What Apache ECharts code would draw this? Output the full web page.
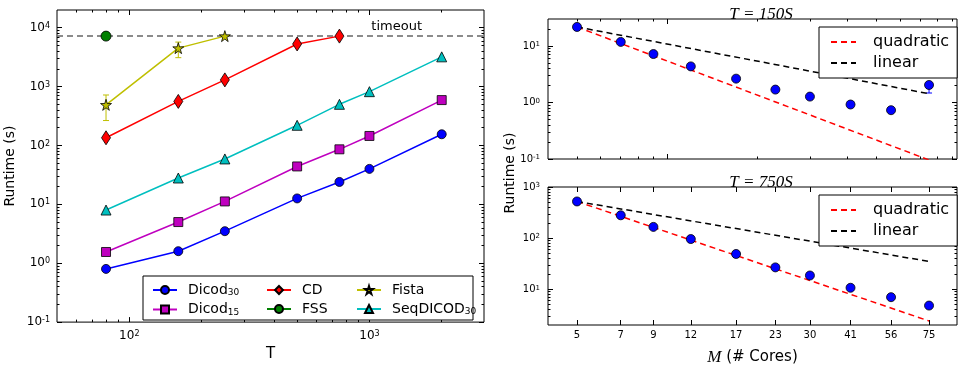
<!DOCTYPE html>
<html>
<head>
<meta charset="utf-8">
<script src="https://cdn.jsdelivr.net/npm/echarts@6/dist/echarts.min.js"></script>
<style>
html, body { margin: 0; padding: 0; background: #fff; }
#chart { width: 961px; height: 367px; }
</style>
</head>
<body>
<div id="chart"></div>
<script>
// left panel: runtime vs T
const T = [80, 160, 250, 500, 750, 1000, 2000];
const dicod30 = [0.8, 1.6, 3.5, 12.6, 24, 40, 155];
const dicod15 = [1.55, 5.0, 11.2, 44, 86, 145, 590];
const seqDicod30 = [8.0, 28, 59, 220, 500, 820, 3200];
const cd = [135, 560, 1300, 5300, 7200];
const fss = [7200];
const fista = [490, 4500, 7200];
const fistaErr = [[265, 720], [3100, 5700]];
const timeout = 7200;

// right panels: runtime vs number of cores
const cores = [5, 7, 9, 12, 17, 23, 30, 41, 56, 75];
const t150 = [21.7, 11.8, 7.2, 4.35, 2.64, 1.69, 1.27, 0.92, 0.73, 2.04];
const t150Err = [1.47, 2.1]; // only the last point has a visible bar
const t750 = [522, 280, 166, 96, 49, 26.8, 18.6, 10.7, 7.0, 4.8];
const refM = [5, 75];
const quad150 = [21.7, 0.096];
const lin150 = [21.7, 1.43];
const quad750 = [522, 2.4];
const lin750 = [522, 35];

const decades = [0.1, 1, 10, 100, 1000, 10000];

const FONT = 'DejaVu Sans';
const STAR = 'path://M50,0 L61,35 L98,35 L68,57 L79,91 L50,70 L21,91 L32,57 L2,35 L39,35 Z';

function minors(lo, hi) {
  const out = [];
  for (let e = -2; e <= 5; e++) {
    for (let d = 2; d <= 9; d++) {
      const v = +(d * Math.pow(10, e)).toPrecision(3);
      if (v > lo && v < hi) out.push(v);
    }
  }
  return out;
}

const pow10 = v => '10{s|' + Math.round(Math.log10(v)) + '}';

// one log axis that only draws ticks (and maybe labels)
function ax(grid, pos, min, max, ticks, len, label) {
  const a = {
    type: 'log', gridIndex: grid, position: pos, min: min, max: max,
    axisLine: { show: false },
    splitLine: { show: false },
    axisTick: { show: true, inside: true, length: len, customValues: ticks, lineStyle: { color: '#000', width: 1 } },
    axisLabel: { show: false }
  };
  if (label) {
    a.axisLabel = Object.assign({ show: true, customValues: ticks, color: '#000', fontFamily: FONT }, label);
  }
  return a;
}

function supLabel(size, margin) {
  return {
    fontSize: size, margin: margin, formatter: pow10,
    rich: { s: { fontSize: Math.round(size * 0.7), verticalAlign: 'top', fontFamily: FONT, color: '#000' } }
  };
}

function errBar(color) {
  return function (params, api) {
    const x = api.value(0);
    const a = api.coord([x, api.value(1)]);
    const b = api.coord([x, api.value(2)]);
    const st = { stroke: color, lineWidth: 1 };
    return {
      type: 'group', children: [
        { type: 'line', shape: { x1: a[0], y1: a[1], x2: b[0], y2: b[1] }, style: st },
        { type: 'line', shape: { x1: a[0] - 3, y1: a[1], x2: a[0] + 3, y2: a[1] }, style: st },
        { type: 'line', shape: { x1: b[0] - 3, y1: b[1], x2: b[0] + 3, y2: b[1] }, style: st }
      ]
    };
  };
}

const pairs = (xs, ys) => ys.map((y, i) => [xs[i], y]);

// axis ranges
const LX = [50, 3000], LY = [0.0999, 20000];
const RX = [4, 93], RTY = [0.0999, 30], RBY = [2, 1001];

const xAxis = [
  // left grid
  Object.assign(ax(0, 'bottom', LX[0], LX[1], [100, 1000], 5, supLabel(12, 8)),
    { name: 'T', nameLocation: 'middle', nameGap: 22, nameTextStyle: { fontSize: 15, fontFamily: FONT, color: '#000' } }),
  ax(0, 'top', LX[0], LX[1], [100, 1000], 5),
  ax(0, 'bottom', LX[0], LX[1], minors(LX[0], LX[1]), 2.5),
  ax(0, 'top', LX[0], LX[1], minors(LX[0], LX[1]), 2.5),
  // right top
  ax(1, 'bottom', RX[0], RX[1], [10], 5),
  ax(1, 'top', RX[0], RX[1], [10], 5),
  ax(1, 'bottom', RX[0], RX[1], minors(RX[0], RX[1]), 2.5),
  ax(1, 'top', RX[0], RX[1], minors(RX[0], RX[1]), 2.5),
  // right bottom
  Object.assign(ax(2, 'bottom', RX[0], RX[1], cores, 5, { fontSize: 10, margin: 5 }),
    {
      name: '{m|M} (# Cores)', nameLocation: 'middle', nameGap: 24,
      nameTextStyle: { fontSize: 15, fontFamily: FONT, color: '#000',
        rich: { m: { fontSize: 17, fontFamily: 'Liberation Serif', fontStyle: 'italic', color: '#000' } } }
    }),
  ax(2, 'top', RX[0], RX[1], cores, 5)
];

const yAxis = [
  // left grid
  Object.assign(ax(0, 'left', LY[0], LY[1], decades, 5, supLabel(12, 7)),
    { name: 'Runtime (s)', nameLocation: 'middle', nameGap: 40, nameTextStyle: { fontSize: 14, fontFamily: FONT, color: '#000' } }),
  ax(0, 'right', LY[0], LY[1], decades, 5),
  ax(0, 'left', LY[0], LY[1], minors(LY[0], LY[1]), 2.5),
  ax(0, 'right', LY[0], LY[1], minors(LY[0], LY[1]), 2.5),
  // right top
  ax(1, 'left', RTY[0], RTY[1], [0.1, 1, 10], 5, supLabel(10, 8)),
  ax(1, 'right', RTY[0], RTY[1], [0.1, 1, 10], 5),
  ax(1, 'left', RTY[0], RTY[1], minors(RTY[0], RTY[1]), 2.5),
  ax(1, 'right', RTY[0], RTY[1], minors(RTY[0], RTY[1]), 2.5),
  // right bottom
  ax(2, 'left', RBY[0], RBY[1], [10, 100, 1000], 5, supLabel(10, 8)),
  ax(2, 'right', RBY[0], RBY[1], [10, 100, 1000], 5),
  ax(2, 'left', RBY[0], RBY[1], minors(RBY[0], RBY[1]), 2.5),
  ax(2, 'right', RBY[0], RBY[1], minors(RBY[0], RBY[1]), 2.5)
];

const edge = { borderColor: '#000', borderWidth: 0.8, opacity: 1 };

function leftLine(name, ys, color, symbol, size) {
  return {
    name: name, type: 'line', xAxisIndex: 0, yAxisIndex: 0,
    data: pairs(T, ys), symbol: symbol, symbolSize: size, z: 3,
    lineStyle: { color: color, width: 1.5 },
    itemStyle: Object.assign({ color: color }, edge)
  };
}

const series = [
  Object.assign(leftLine('Dicod30', dicod30, '#0000ff', 'circle', 9), {
    markLine: {
      silent: true, symbol: 'none', z: 1,
      lineStyle: { color: '#666', type: [6, 4], width: 1.5 },
      label: { show: true, position: 'insideEndTop', formatter: 'timeout', color: '#000', fontSize: 13, fontFamily: FONT, offset: [-57, 2] },
      data: [{ yAxis: timeout }]
    }
  }),
  leftLine('CD', cd, '#ff0000', 'diamond', [9, 14]),
  {
    type: 'custom', xAxisIndex: 0, yAxisIndex: 0, z: 2,
    renderItem: errBar('#bfbf00'),
    encode: { x: 0, y: [1, 2] },
    data: fistaErr.map((e, i) => [T[i], e[0], e[1]])
  },
  leftLine('Fista', fista, '#bfbf00', STAR, 11),
  leftLine('Dicod15', dicod15, '#bf00bf', 'rect', 9),
  leftLine('FSS', fss, '#008000', 'circle', 10),
  leftLine('SeqDICOD30', seqDicod30, '#00bfbf', 'triangle', 10),

  // right top: T = 150S
  { name: 'quadratic', type: 'line', xAxisIndex: 4, yAxisIndex: 4, data: pairs(refM, quad150), symbol: 'none',
    lineStyle: { color: '#ff0000', type: [6, 4], width: 1.5 }, itemStyle: { color: '#ff0000' } },
  { name: 'linear', type: 'line', xAxisIndex: 4, yAxisIndex: 4, data: pairs(refM, lin150), symbol: 'none',
    lineStyle: { color: '#000', type: [6, 4], width: 1.5 }, itemStyle: { color: '#000' } },
  { type: 'custom', xAxisIndex: 4, yAxisIndex: 4, z: 2, renderItem: errBar('#0000ff'), encode: { x: 0, y: [1, 2] },
    data: [[cores[cores.length - 1], t150Err[0], t150Err[1]]] },
  { type: 'scatter', xAxisIndex: 4, yAxisIndex: 4, data: pairs(cores, t150), symbol: 'circle', symbolSize: 9, z: 3,
    itemStyle: Object.assign({ color: '#0000ff' }, edge) },

  // right bottom: T = 750S
  { name: 'quadratic', type: 'line', xAxisIndex: 8, yAxisIndex: 8, data: pairs(refM, quad750), symbol: 'none',
    lineStyle: { color: '#ff0000', type: [6, 4], width: 1.5 }, itemStyle: { color: '#ff0000' } },
  { name: 'linear', type: 'line', xAxisIndex: 8, yAxisIndex: 8, data: pairs(refM, lin750), symbol: 'none',
    lineStyle: { color: '#000', type: [6, 4], width: 1.5 }, itemStyle: { color: '#000' } },
  { type: 'scatter', xAxisIndex: 8, yAxisIndex: 8, data: pairs(cores, t750), symbol: 'circle', symbolSize: 9, z: 3,
    itemStyle: Object.assign({ color: '#0000ff' }, edge) }
];

const subText = { fontSize: 14, fontFamily: FONT, color: '#000',
  rich: { b: { fontSize: 9, verticalAlign: 'bottom', fontFamily: FONT, color: '#000', padding: [6, 0, 0, 0] } } };
const legendName = n => n.replace(/(\d+)$/, '{b|$1}');

function leftLegend(x, names) {
  return {
    orient: 'vertical', left: x, top: 278, itemWidth: 24, itemHeight: 10, itemGap: 5,
    data: names, formatter: legendName, textStyle: Object.assign({ padding: [0, 0, 0, 6] }, subText),
    selectedMode: false, z: 6
  };
}

function rightLegend(y) {
  return {
    orient: 'vertical', left: 819, top: y, itemWidth: 25, itemHeight: 14, itemGap: 5,
    padding: [7, 8, 7, 11], borderColor: '#000', borderWidth: 1, backgroundColor: '#fff',
    borderRadius: 0, selectedMode: false, itemStyle: { opacity: 0 },
    data: ['quadratic', 'linear'], textStyle: { fontSize: 16, fontFamily: FONT, color: '#000', padding: [0, 0, 0, 12] }
  };
}

const titleStyle = { fontSize: 17, fontFamily: 'Liberation Serif', fontStyle: 'italic', fontWeight: 'normal', color: '#000' };

const option = {
  animation: false,
  textStyle: { fontFamily: FONT },
  title: [
    { text: 'T = 150S', left: 756, top: 1, textAlign: 'center', textStyle: titleStyle },
    { text: 'T = 750S', left: 756, top: 169, textAlign: 'center', textStyle: titleStyle }
  ],
  grid: [
    { left: 57, top: 10, width: 427, height: 317, show: true, borderColor: '#000', borderWidth: 1 },
    { left: 548, top: 19, width: 409, height: 140, show: true, borderColor: '#000', borderWidth: 1 },
    { left: 548, top: 187, width: 409, height: 140, show: true, borderColor: '#000', borderWidth: 1 }
  ],
  legend: [
    leftLegend(147, ['Dicod30', 'Dicod15']),
    leftLegend(261, ['CD', 'FSS']),
    leftLegend(351, ['Fista', 'SeqDICOD30']),
    rightLegend(27),
    rightLegend(195)
  ],
  graphic: [
    { type: 'rect', z: 5, shape: { x: 143, y: 276, width: 330, height: 44 },
      style: { fill: '#fff', stroke: '#000', lineWidth: 1 } },
    { type: 'text', x: 510, y: 173, rotation: Math.PI / 2,
      style: { text: 'Runtime (s)', font: '14px "DejaVu Sans"', align: 'center', verticalAlign: 'middle', fill: '#000' } }
  ],
  xAxis: xAxis,
  yAxis: yAxis,
  series: series
};

const chart = echarts.init(document.getElementById('chart'));
chart.setOption(option);
</script>
</body>
</html>
